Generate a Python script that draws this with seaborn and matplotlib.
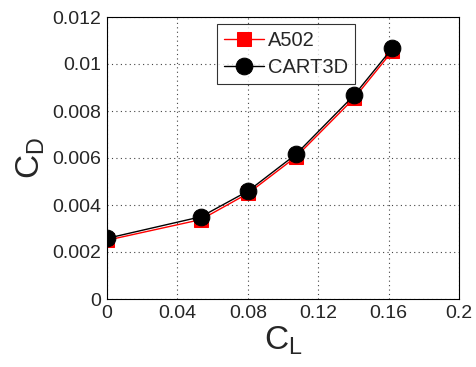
import matplotlib
matplotlib.use("Agg")
import matplotlib.pyplot as plt
import seaborn as sns
import pandas as pd

cl_a502 = [0.0, 0.0534, 0.0803, 0.1074, 0.1405, 0.1621]
cd_a502 = [0.00250, 0.00338, 0.00450, 0.00605, 0.00855, 0.01055]
cl_cart = [0.0, 0.0534, 0.0803, 0.1074, 0.1405, 0.1621]
cd_cart = [0.00258, 0.00350, 0.00460, 0.00616, 0.00868, 0.01067]
xticks = [0, 0.04, 0.08, 0.12, 0.16, 0.2]
xticklabels = ["0", "0.04", "0.08", "0.12", "0.16", "0.2"]
yticks = [0, 0.002, 0.004, 0.006, 0.008, 0.01, 0.012]
yticklabels = ["0", "0.002", "0.004", "0.006", "0.008", "0.01", "0.012"]

sns.set_style("white")
plt.rcParams['font.family'] = ['Liberation Sans', 'DejaVu Sans']
plt.rcParams['mathtext.fontset'] = 'custom'
plt.rcParams['mathtext.rm'] = 'Liberation Sans'

fig = plt.figure(figsize=(4.76, 3.67), dpi=100)
ax = fig.add_axes([107/476, 1-299/367, 352/476, 282/367])

df_a = pd.DataFrame({"CL": cl_a502, "CD": cd_a502})
df_c = pd.DataFrame({"CL": cl_cart, "CD": cd_cart})
sns.lineplot(data=df_a, x="CL", y="CD", ax=ax, color="red", marker="s",
             markersize=10, markeredgecolor="red", linewidth=1, label="A502")
sns.lineplot(data=df_c, x="CL", y="CD", ax=ax, color="black", marker="o",
             markersize=12, markeredgecolor="black", linewidth=1, label="CART3D")

ax.set_xlim(0, 0.2)
ax.set_ylim(0, 0.012)
ax.set_xticks(xticks)
ax.set_xticklabels(xticklabels, fontsize=14)
ax.set_yticks(yticks)
ax.set_yticklabels(yticklabels, fontsize=14)
ax.grid(True, linestyle=(0, (1, 3)), color="#444444", linewidth=0.8)
for s in ax.spines.values():
    s.set_color("black")
    s.set_linewidth(0.8)
ax.tick_params(direction="in", length=3, color="black", pad=4)
ax.set_xlabel(r"C$_\mathrm{L}$", fontsize=24, labelpad=2)
ax.set_ylabel(r"C$_\mathrm{D}$", fontsize=24, labelpad=4)

leg = ax.legend(loc="upper left", bbox_to_anchor=(0.312, 0.975), fontsize=14.5,
                frameon=True, fancybox=False, edgecolor="black",
                handlelength=2.0, handletextpad=0.2, borderpad=0.35,
                labelspacing=0.4, borderaxespad=0)
leg.get_frame().set_linewidth(0.8)

fig.savefig("out.png", dpi=100)
